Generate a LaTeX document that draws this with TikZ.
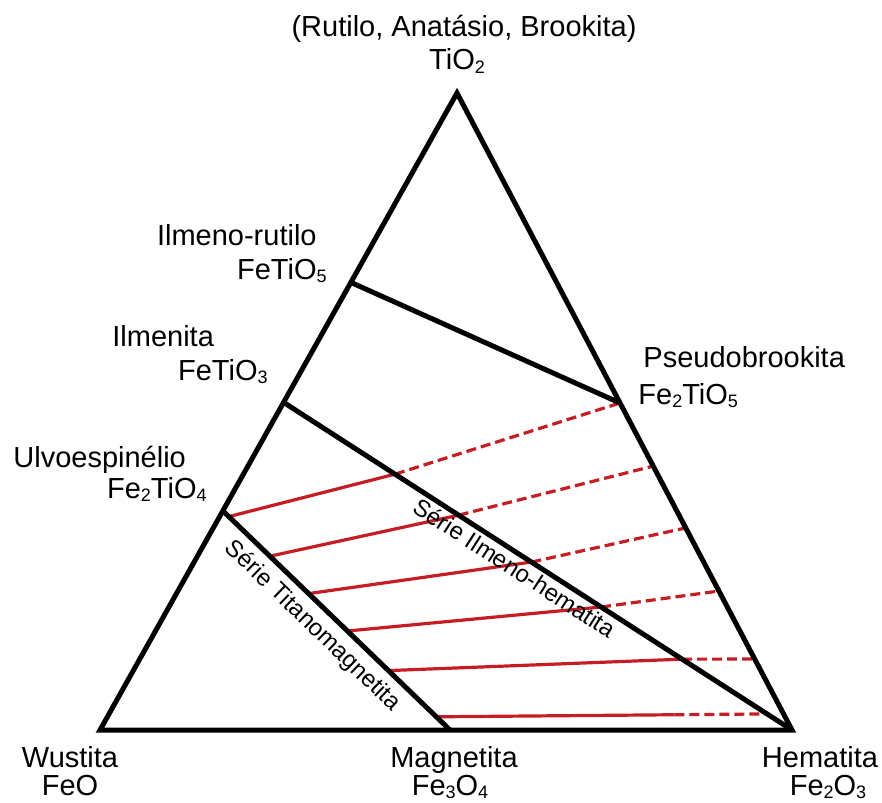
\documentclass[tikz,border=0pt]{standalone}
\usepackage{fontspec}
\setmainfont{Liberation Sans}
\usetikzlibrary{calc}

\definecolor{tiered}{RGB}{196,30,36}
\newcommand{\ssub}[1]{\raisebox{-0.2ex}{\fontsize{9}{9}\selectfont #1}}

\tikzstyle{side} = [line width=2.5pt, line join=miter, draw=black]
\tikzstyle{tie} = [line width=1.6pt, draw=tiered]
\tikzstyle{tiedash} = [tie, dash pattern=on 5pt off 2.5pt]
\tikzstyle{lbl} = [font=\fontsize{14.5}{16}\selectfont, inner sep=0pt]
\tikzstyle{serie} = [font=\fontsize{12}{14}\selectfont, inner sep=1pt, sloped]

\begin{document}
\begin{tikzpicture}[x=0.5pt, y=-0.5pt]
  \useasboundingbox (0,0) rectangle (882,802);
  % corners and points on the sides
  \coordinate (tio2) at (457,93);
  \coordinate (feo) at (100,730);
  \coordinate (fe2o3) at (792,730);
  \coordinate (fe3o4) at (450,730);
  \coordinate (fetio5) at (350,282);
  \coordinate (fetio3) at (283,402);
  \coordinate (fe2tio4) at (222,510);
  \coordinate (fe2tio5) at (620,403);
  % tie lines
  \coordinate (a1) at ($(fe2tio4)!0.03!(fe3o4)$);
  \coordinate (a2) at ($(fe2tio4)!0.21!(fe3o4)$);
  \coordinate (a3) at ($(fe2tio4)!0.38!(fe3o4)$);
  \coordinate (a4) at ($(fe2tio4)!0.55!(fe3o4)$);
  \coordinate (a5) at ($(fe2tio4)!0.73!(fe3o4)$);
  \coordinate (a6) at ($(fe2tio4)!0.94!(fe3o4)$);
  \coordinate (b1) at ($(fetio3)!0.22!(fe2o3)$);
  \coordinate (b2) at ($(fetio3)!0.345!(fe2o3)$);
  \coordinate (b3) at ($(fetio3)!0.488!(fe2o3)$);
  \coordinate (b4) at ($(fetio3)!0.625!(fe2o3)$);
  \coordinate (b5) at ($(fetio3)!0.784!(fe2o3)$);
  \coordinate (b6) at ($(fetio3)!0.951!(fe2o3)$);
  \coordinate (c2) at ($(fe2tio5)!0.193!(fe2o3)$);
  \coordinate (c3) at ($(fe2tio5)!0.382!(fe2o3)$);
  \coordinate (c4) at ($(fe2tio5)!0.575!(fe2o3)$);
  \coordinate (c5) at ($(fe2tio5)!0.783!(fe2o3)$);
  \coordinate (m6) at ($(a6)!0.72!(b6)$);
  \draw [tie] (a1) -- (b1);
  \draw [tiedash] (b1) -- (fe2tio5);
  \draw [tie] (a2) -- (b2);
  \draw [tiedash] (b2) -- (c2);
  \draw [tie] (a3) -- (b3);
  \draw [tiedash] (b3) -- (c3);
  \draw [tie] (a4) -- (b4);
  \draw [tiedash] (b4) -- (c4);
  \draw [tie] (a5) -- (b5);
  \draw [tiedash] (b5) -- (c5);
  \draw [tie] (a6) -- (m6);
  \draw [tiedash] (m6) -- (b6);
  % triangle and series
  \draw [side] (tio2) -- (fe2o3) -- (feo) -- cycle;
  \draw [side] (fetio5) -- (fe2tio5);
  \draw [side] (fetio3) -- (fe2o3);
  \draw [side] (fe2tio4) -- (fe3o4);
  \path (fetio3) -- (fe2o3) node (ilmhem) [serie, pos=0.47, below=1.3pt] {Série Ilmeno-hematita};
  \path (fe2tio4) -- (fe3o4) node (titmag) [serie, pos=0.46, below=3.5pt] {Série Titanomagnetita};
  % labels
  \node (rutname) [lbl, anchor=base] at (464,37) {(Rutilo, Anatásio, Brookita)};
  \node (tio2txt) [lbl, anchor=base] at (457,70) {TiO\ssub{2}};
  \node (fetio5name) [lbl, anchor=base east] at (317,245) {Ilmeno-rutilo};
  \node (fetio5txt) [lbl, anchor=base east] at (327,279) {FeTiO\ssub{5}};
  \node (fetio3name) [lbl, anchor=base west] at (112,346) {Ilmenita};
  \node (fetio3txt) [lbl, anchor=base east] at (268,380) {FeTiO\ssub{3}};
  \node (fe2tio4name) [lbl, anchor=base west] at (13,467) {Ulvoespinélio};
  \node (fe2tio4txt) [lbl, anchor=base east] at (207,498) {Fe\ssub{2}TiO\ssub{4}};
  \node (fe2tio5name) [lbl, anchor=base west] at (643,367) {Pseudobrookita};
  \node (fe2tio5txt) [lbl, anchor=base west] at (638,404) {Fe\ssub{2}TiO\ssub{5}};
  \node (feoname) [lbl, anchor=base] at (70,767) {Wustita};
  \node (feotxt) [lbl, anchor=base] at (70,795) {FeO};
  \node (fe3o4name) [lbl, anchor=base] at (454,767) {Magnetita};
  \node (fe3o4txt) [lbl, anchor=base] at (450,795) {Fe\ssub{3}O\ssub{4}};
  \node (fe2o3name) [lbl, anchor=base] at (820,767) {Hematita};
  \node (fe2o3txt) [lbl, anchor=base] at (828,795) {Fe\ssub{2}O\ssub{3}};
\end{tikzpicture}
\end{document}
